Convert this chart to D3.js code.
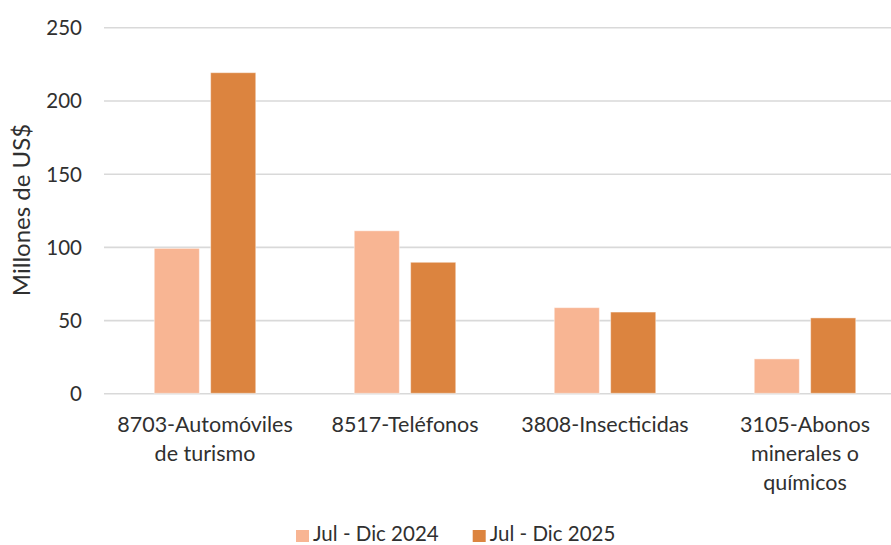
<!DOCTYPE html>
<html>
<head>
<meta charset="utf-8">
<script src="https://cdn.jsdelivr.net/npm/d3@7"></script>
<style>
  html, body { margin: 0; padding: 0; background: #fff; }
  svg { display: block; }
  text { font-family: Lato, "Open Sans", sans-serif; fill: #303030; }
</style>
</head>
<body>
<svg id="chart" width="891" height="545"></svg>
<script>
const categories = ["8703-Automóviles de turismo", "8517-Teléfonos", "3808-Insecticidas", "3105-Abonos minerales o químicos"];
const categoryLines = [["8703-Automóviles", "de turismo"], ["8517-Teléfonos"], ["3808-Insecticidas"], ["3105-Abonos", "minerales o", "químicos"]];
const seriesNames = ["Jul - Dic 2024", "Jul - Dic 2025"];
const values2024 = [99, 111, 58.5, 23.5];
const values2025 = [219, 89.5, 55.5, 51.5];
const yTicks = [0, 50, 100, 150, 200, 250];
const colors = ["#F8B593", "#DC843F"];

const svg = d3.select("#chart");
const W = 891, H = 545;
const plotLeft = 105, plotRight = 905, plotTop = 27.3, plotBottom = 393.3;

const y = d3.scaleLinear().domain([0, 250]).range([plotBottom, plotTop]);
const x0 = d3.scaleBand().domain(categories).range([plotLeft, plotRight]).padding(0);
const x1 = d3.scaleBand().domain(seriesNames)
  .range([x0.bandwidth() / 2 - 50.75, x0.bandwidth() / 2 + 50.75]).paddingInner(0.2);

// gridlines
const yAxis = d3.axisLeft(y).tickValues(yTicks).tickSize(-(W - plotLeft + 1)).tickPadding(22);
const gAxis = svg.append("g").attr("transform", `translate(${plotLeft - 1},0)`).call(yAxis);
gAxis.select(".domain").remove();
gAxis.selectAll(".tick line").attr("stroke", "#d9d9d9").attr("stroke-width", 1.6);
gAxis.selectAll(".tick text").attr("font-size", 20.5).attr("fill", "#303030")
  .style("font-family", "Lato, 'Open Sans', sans-serif").attr("dy", "0.36em");

// bars
const data = categories.map((c, i) => ({ cat: c, vals: [values2024[i], values2025[i]] }));
const groups = svg.append("g").selectAll("g").data(data).join("g")
  .attr("transform", d => `translate(${x0(d.cat)},0)`);
groups.selectAll("rect").data(d => d.vals.map((v, j) => ({ s: seriesNames[j], v, j })))
  .join("rect")
  .attr("x", d => x1(d.s))
  .attr("width", x1.bandwidth())
  .attr("y", d => y(d.v))
  .attr("height", d => y(0) - y(d.v))
  .attr("fill", d => colors[d.j])
  .attr("stroke", "#ffffff").attr("stroke-opacity", 0.45).attr("stroke-width", 1);

// category labels
const lab = svg.append("g");
categories.forEach((c, i) => {
  const cx = x0(c) + x0.bandwidth() / 2;
  const t = lab.append("text")
    .attr("text-anchor", "middle")
    .attr("font-size", 21.5)
    .attr("x", cx)
    .attr("y", 432);
  categoryLines[i].forEach((ln, k) => {
    t.append("tspan").attr("x", cx).attr("dy", k === 0 ? 0 : 29).text(ln);
  });
});

// y title
svg.append("text")
  .attr("transform", `translate(30,210) rotate(-90)`)
  .attr("text-anchor", "middle")
  .attr("font-size", 24)
  .text("Millones de US$");

// legend
const legendX = [296, 472.7];
const lg = svg.append("g");
seriesNames.forEach((s, i) => {
  lg.append("rect").attr("x", legendX[i]).attr("y", 530).attr("width", 13).attr("height", 12).attr("fill", colors[i]);
  lg.append("text").attr("x", legendX[i] + 17).attr("y", 541).attr("font-size", 20.5).text(s);
});
</script>
</body>
</html>
